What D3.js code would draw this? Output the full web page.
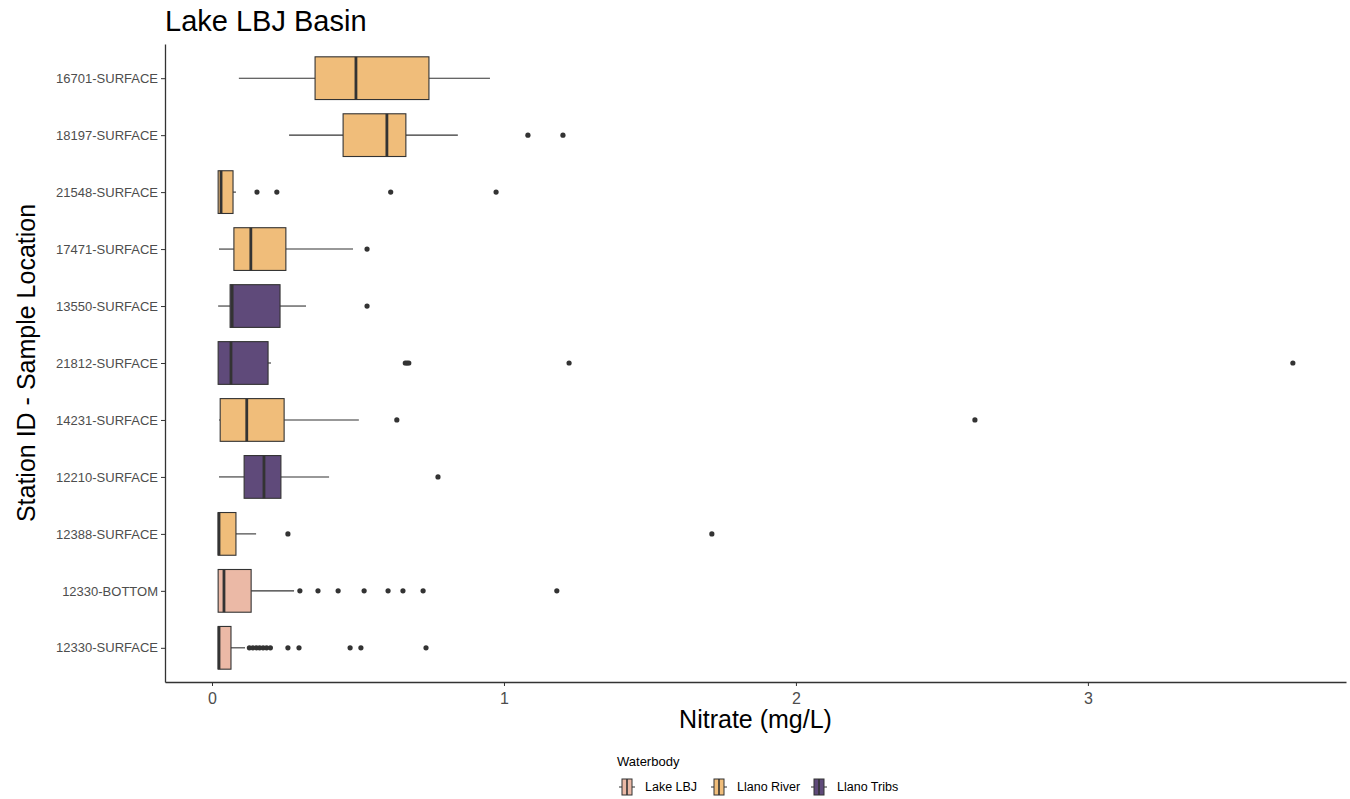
<!DOCTYPE html>
<html>
<head>
<meta charset="utf-8">
<script src="https://cdn.jsdelivr.net/npm/d3@7"></script>
<style>
  html, body { margin: 0; padding: 0; background: #ffffff; }
  svg { display: block; font-family: "Liberation Sans", Arial, sans-serif; }
</style>
</head>
<body>
<svg id="chart" width="1350" height="799"></svg>
<script>
// ---- data ----
const stations = ["16701-SURFACE","18197-SURFACE","21548-SURFACE","17471-SURFACE","13550-SURFACE",
  "21812-SURFACE","14231-SURFACE","12210-SURFACE","12388-SURFACE","12330-BOTTOM","12330-SURFACE"];
const waterbody = ["Llano River","Llano River","Llano River","Llano River","Llano Tribs",
  "Llano Tribs","Llano River","Llano Tribs","Llano River","Lake LBJ","Lake LBJ"];
const whiskerLow  = [0.092, 0.264, 0.021, 0.024, 0.021, 0.021, 0.024, 0.024, 0.021, 0.021, 0.021];
const q1          = [0.353, 0.449, 0.021, 0.075, 0.062, 0.021, 0.028, 0.110, 0.021, 0.021, 0.021];
const median      = [0.493, 0.599, 0.031, 0.133, 0.069, 0.065, 0.119, 0.178, 0.024, 0.041, 0.024];
const q3          = [0.743, 0.664, 0.072, 0.253, 0.233, 0.192, 0.247, 0.236, 0.082, 0.134, 0.065];
const whiskerHigh = [0.952, 0.842, 0.082, 0.483, 0.322, 0.202, 0.503, 0.401, 0.151, 0.281, 0.113];
const outliers = [
  [],
  [1.082, 1.202],
  [0.154, 0.222, 0.612, 0.973],
  [0.531],
  [0.531],
  [0.662, 0.668, 0.674, 1.223, 3.702],
  [0.633, 2.613],
  [0.774],
  [0.260, 1.712],
  [0.301, 0.363, 0.432, 0.521, 0.603, 0.654, 0.723, 1.181],
  [0.128, 0.140, 0.152, 0.163, 0.175, 0.187, 0.200, 0.260, 0.298, 0.473, 0.510, 0.733]
];
const groups = ["Lake LBJ", "Llano River", "Llano Tribs"];
const groupColors = ["#ebb9a6", "#f0bd7a", "#5f4a7a"];
const xTicks = [0, 1, 2, 3];
const titleText = "Lake LBJ Basin";
const xTitle = "Nitrate (mg/L)";
const yTitle = "Station ID - Sample Location";
const legendTitle = "Waterbody";

// ---- layout ----
const svg = d3.select("#chart");
const panel = { left: 165, right: 1346, top: 44, bottom: 682 };

const x = d3.scaleLinear().domain([-0.161, 3.884]).range([panel.left, panel.right]);
const y = d3.scalePoint().domain(stations).range([panel.top, panel.bottom]).padding(0.6);
const color = d3.scaleOrdinal().domain(groups).range(groupColors);

const boxH = y.step() * 0.75;
const lineCol = "#333333";

const rows = stations.map((s, i) => ({
  s, g: waterbody[i], lo: whiskerLow[i], q1: q1[i], med: median[i], q3: q3[i], hi: whiskerHigh[i], out: outliers[i]
}));

const gRows = svg.append("g").selectAll("g").data(rows).join("g")
  .attr("transform", d => `translate(0,${y(d.s)})`);

// whiskers
gRows.append("line").attr("x1", d => x(d.lo)).attr("x2", d => x(d.q1))
  .attr("y1", 0).attr("y2", 0).attr("stroke", lineCol).attr("stroke-width", 1.1);
gRows.append("line").attr("x1", d => x(d.q3)).attr("x2", d => x(d.hi))
  .attr("y1", 0).attr("y2", 0).attr("stroke", lineCol).attr("stroke-width", 1.1);
// boxes
gRows.append("rect").attr("x", d => x(d.q1)).attr("width", d => Math.max(0, x(d.q3) - x(d.q1)))
  .attr("y", -boxH / 2).attr("height", boxH).attr("fill", d => color(d.g))
  .attr("stroke", lineCol).attr("stroke-width", 1.1);
// medians
gRows.append("line").attr("x1", d => x(d.med)).attr("x2", d => x(d.med))
  .attr("y1", -boxH / 2).attr("y2", boxH / 2).attr("stroke", lineCol).attr("stroke-width", 2.8);
// outliers
gRows.selectAll("circle").data(d => d.out).join("circle")
  .attr("cx", v => x(v)).attr("cy", 0).attr("r", 2.6).attr("fill", lineCol);

// ---- axes ----
const xAxis = svg.append("g").attr("transform", `translate(0,${panel.bottom})`)
  .call(d3.axisBottom(x).tickValues(xTicks).tickFormat(d3.format("d")).tickSize(4).tickSizeOuter(0));
xAxis.select(".domain").attr("stroke", lineCol).attr("stroke-width", 1.3);
xAxis.selectAll(".tick line").attr("stroke", lineCol);
xAxis.selectAll(".tick text").attr("fill", "#4d4d4d").style("font-size", "16px").attr("dy", "0.95em");

const yAxis = svg.append("g").attr("transform", `translate(${panel.left},0)`)
  .call(d3.axisLeft(y).tickSize(4).tickSizeOuter(0));
yAxis.select(".domain").attr("stroke", lineCol).attr("stroke-width", 1.3);
yAxis.selectAll(".tick line").attr("stroke", lineCol);
yAxis.selectAll(".tick text").attr("fill", "#4d4d4d").style("font-size", "13px");

// ---- titles ----
svg.append("text").attr("x", 165).attr("y", 31).text(titleText)
  .style("font-size", "29px").attr("fill", "#000");
svg.append("text").attr("x", (panel.left + panel.right) / 2).attr("y", 728)
  .attr("text-anchor", "middle").text(xTitle).style("font-size", "25px").attr("fill", "#000");
svg.append("text").attr("transform", `translate(35,${(panel.top + panel.bottom) / 2}) rotate(-90)`)
  .attr("text-anchor", "middle").text(yTitle).style("font-size", "25px").attr("fill", "#000");

// ---- legend ----
const lg = svg.append("g").attr("transform", "translate(617,0)");
lg.append("text").attr("x", 0).attr("y", 766).text(legendTitle).style("font-size", "13px").attr("fill", "#000");
const keyX = [0, 92, 192];
const items = lg.selectAll("g.item").data(groups).join("g").attr("class", "item")
  .attr("transform", (d, i) => `translate(${keyX[i]},778)`);
items.append("line").attr("x1", 2).attr("x2", 18).attr("y1", 9).attr("y2", 9).attr("stroke", lineCol).attr("stroke-width", 1);
items.append("rect").attr("x", 5).attr("y", 1).attr("width", 10).attr("height", 16)
  .attr("fill", d => color(d)).attr("stroke", lineCol).attr("stroke-width", 1);
items.append("line").attr("x1", 10).attr("x2", 10).attr("y1", 1).attr("y2", 17).attr("stroke", lineCol).attr("stroke-width", 1.6);
items.append("text").attr("x", 28).attr("y", 13).text(d => d).style("font-size", "12.5px").attr("fill", "#000");
</script>
</body>
</html>
